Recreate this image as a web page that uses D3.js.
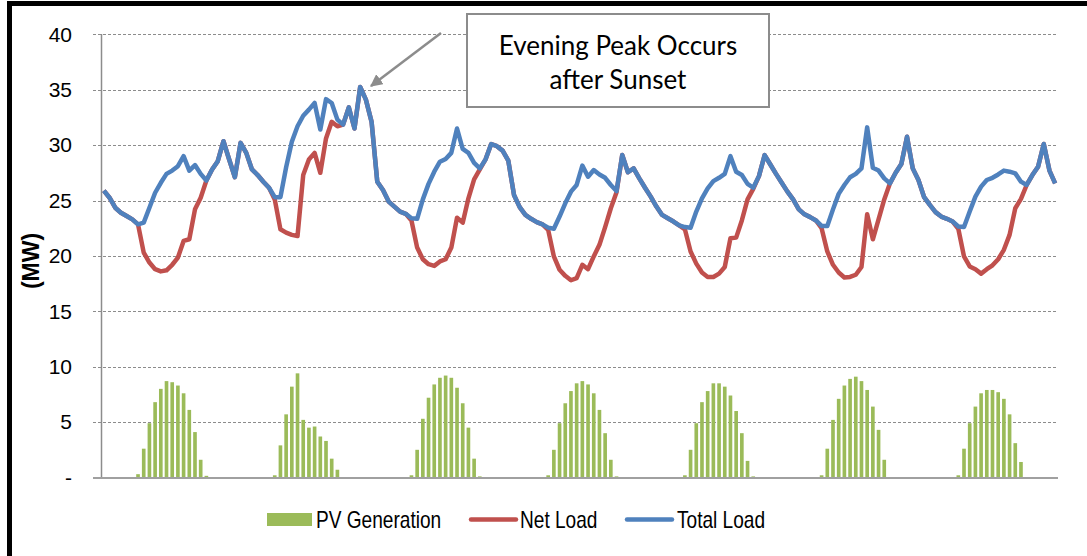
<!DOCTYPE html>
<html>
<head>
<meta charset="utf-8">
<script src="https://cdn.jsdelivr.net/npm/d3@7"></script>
<style>
  body { margin: 0; background: #fff; }
  svg { display: block; }
</style>
</head>
<body>
<svg id="chart" width="1087" height="556"></svg>
<script>
// hourly values for one week, one row per day (hours 0..23)
const totalLoad = [
  25.9, 25.25, 24.35, 23.9, 23.6, 23.3, 22.85, 23.0, 24.35, 25.7, 26.6, 27.4, 27.7, 28.1, 29.0, 27.7, 28.2, 27.4, 26.8, 27.8, 28.55, 30.35, 28.7, 27.1,
  30.2, 29.3, 27.8, 27.3, 26.7, 26.15, 25.3, 25.3, 28.0, 30.3, 31.7, 32.65, 33.2, 33.8, 31.4, 34.15, 33.8, 32.3, 31.85, 33.4, 31.5, 35.25, 34.1, 32.1,
  26.7, 25.95, 24.9, 24.45, 24.0, 23.8, 23.4, 23.35, 25.1, 26.5, 27.6, 28.5, 28.75, 29.3, 31.5, 29.65, 29.3, 28.4, 27.9, 28.7, 30.1, 29.9, 29.5, 28.6,
  25.5, 24.4, 23.7, 23.35, 23.05, 22.85, 22.55, 22.45, 23.55, 24.75, 25.8, 26.4, 28.15, 27.15, 27.75, 27.35, 27.05, 26.4, 25.85, 29.1, 27.55, 27.9, 27.0, 26.15,
  25.35, 24.45, 23.7, 23.4, 23.1, 22.75, 22.6, 22.55, 24.0, 25.2, 26.1, 26.75, 27.05, 27.4, 29.0, 27.6, 27.3, 26.5, 26.15, 27.2, 29.1, 28.25, 27.4, 26.6,
  25.8, 25.1, 24.2, 23.75, 23.5, 23.2, 22.7, 22.7, 24.2, 25.6, 26.4, 27.1, 27.4, 27.9, 31.6, 27.95, 27.7, 27.0, 26.55, 27.5, 28.3, 30.75, 27.9, 26.85,
  25.3, 24.6, 23.95, 23.55, 23.35, 23.1, 22.65, 22.6, 24.0, 25.35, 26.25, 26.85, 27.05, 27.35, 27.7, 27.6, 27.45, 26.7, 26.4, 27.3, 28.05, 30.1, 27.7, 26.55
];

const netLoad = [
  25.9, 25.25, 24.35, 23.9, 23.6, 23.3, 22.85, 20.3, 19.4, 18.8, 18.6, 18.7, 19.2, 19.85, 21.35, 21.5, 24.2, 25.25, 26.8, 27.8, 28.55, 30.35, 28.7, 27.1,
  30.2, 29.3, 27.8, 27.3, 26.7, 26.15, 25.1, 22.4, 22.1, 21.9, 21.8, 27.3, 28.7, 29.3, 27.5, 30.6, 32.1, 31.7, 31.85, 33.4, 31.5, 35.25, 34.1, 32.1,
  26.7, 25.95, 24.9, 24.45, 24.0, 23.8, 23.2, 20.75, 19.7, 19.25, 19.1, 19.5, 19.7, 20.75, 23.45, 23.0, 25.2, 26.9, 27.8, 28.7, 30.1, 29.9, 29.5, 28.6,
  25.5, 24.4, 23.7, 23.35, 23.05, 22.85, 22.35, 19.95, 18.75, 18.2, 17.8, 18.0, 19.2, 18.8, 19.95, 21.0, 22.6, 24.3, 25.75, 29.1, 27.55, 27.9, 27.0, 26.15,
  25.35, 24.45, 23.7, 23.4, 23.1, 22.75, 22.4, 20.4, 19.3, 18.5, 18.1, 18.1, 18.4, 19.0, 21.6, 21.65, 23.2, 25.1, 26.05, 27.2, 29.1, 28.25, 27.4, 26.6,
  25.8, 25.1, 24.2, 23.75, 23.5, 23.2, 22.5, 20.4, 19.2, 18.5, 18.05, 18.1, 18.3, 19.0, 23.75, 21.5, 23.3, 25.1, 26.55, 27.5, 28.3, 30.75, 27.9, 26.85,
  25.3, 24.6, 23.95, 23.55, 23.35, 23.1, 22.45, 19.95, 19.05, 18.8, 18.4, 18.8, 19.15, 19.7, 20.55, 21.9, 24.3, 25.15, 26.4, 27.3, 28.05, 30.1, 27.7, 26.55
];

const pvGeneration = [
  0, 0, 0, 0, 0, 0, 0.3, 2.6, 4.9, 6.8, 8.0, 8.7, 8.6, 8.3, 7.6, 6.1, 4.1, 1.6, 0.15, 0, 0, 0, 0, 0,
  0, 0, 0, 0, 0, 0, 0.2, 2.9, 5.7, 8.2, 9.4, 5.2, 4.5, 4.6, 3.7, 3.3, 1.7, 0.7, 0, 0, 0, 0, 0, 0,
  0, 0, 0, 0, 0, 0, 0.2, 2.5, 5.3, 7.2, 8.4, 9.0, 9.2, 9.0, 8.1, 6.7, 4.5, 1.7, 0.1, 0, 0, 0, 0, 0,
  0, 0, 0, 0, 0, 0, 0.2, 2.5, 4.9, 6.7, 7.8, 8.5, 8.7, 8.4, 7.6, 6.1, 4.0, 1.6, 0.1, 0, 0, 0, 0, 0,
  0, 0, 0, 0, 0, 0, 0.2, 2.5, 4.9, 6.8, 7.8, 8.5, 8.5, 8.2, 7.4, 6.0, 4.0, 1.5, 0.1, 0, 0, 0, 0, 0,
  0, 0, 0, 0, 0, 0, 0.2, 2.6, 5.2, 7.1, 8.3, 8.9, 9.1, 8.7, 7.9, 6.4, 4.3, 1.6, 0, 0, 0, 0, 0, 0,
  0, 0, 0, 0, 0, 0, 0.2, 2.6, 4.9, 6.4, 7.6, 7.9, 7.9, 7.7, 7.1, 5.7, 3.1, 1.4, 0, 0, 0, 0, 0, 0
];

const yTicks = [0, 5, 10, 15, 20, 25, 30, 35, 40];
const seriesNames = ["PV Generation", "Net Load", "Total Load"];
const annotationLines = ["Evening Peak Occurs", "after Sunset"];

const colors = { pv: "#9bbb59", net: "#c0504d", total: "#4f81bd" };

const svg = d3.select("#chart");
const hours = d3.range(totalLoad.length);

const x = d3.scaleBand().domain(hours).range([101, 1058]).paddingInner(0.36).paddingOuter(0.18);
const y = d3.scaleLinear().domain([0, 40]).range([477.5, 34.3]);
const cx = (i) => x(i) + x.bandwidth() / 2;

// frame (left and top edges of the original border)
svg.append("rect").attr("x", 7).attr("y", 1).attr("width", 1080).attr("height", 5).attr("fill", "#000");
svg.append("rect").attr("x", 7).attr("y", 1).attr("width", 5).attr("height", 555).attr("fill", "#000");

// gridlines
svg.append("g")
  .selectAll("line")
  .data(yTicks.filter((d) => d > 0))
  .enter()
  .append("line")
  .attr("x1", 93)
  .attr("x2", 1058)
  .attr("y1", (d) => Math.round(y(d)) + 0.5)
  .attr("y2", (d) => Math.round(y(d)) + 0.5)
  .attr("stroke", "#8c8c8c")
  .attr("stroke-width", 1)
  .attr("stroke-dasharray", "3,2");

// y axis
const yAxis = d3.axisLeft(y)
  .tickValues(yTicks)
  .tickSize(0)
  .tickPadding(29)
  .tickFormat((d) => (d === 0 ? "-" : d));

svg.append("g")
  .attr("transform", "translate(101,0)")
  .call(yAxis)
  .call((g) => g.select(".domain").remove())
  .selectAll("text")
  .attr("font-family", "'Liberation Sans', Arial, sans-serif")
  .attr("font-size", 21)
  .attr("fill", "#000");

svg.append("text")
  .attr("transform", "translate(39,261) rotate(-90)")
  .attr("text-anchor", "middle")
  .attr("font-family", "'Liberation Sans', Arial, sans-serif")
  .attr("font-weight", "bold")
  .attr("font-size", 23)
  .text("(MW)");

// PV bars
svg.append("g")
  .selectAll("rect")
  .data(hours.filter((i) => pvGeneration[i] > 0))
  .enter()
  .append("rect")
  .attr("x", (i) => x(i))
  .attr("width", x.bandwidth())
  .attr("y", (i) => y(pvGeneration[i]))
  .attr("height", (i) => y(0) - y(pvGeneration[i]))
  .attr("fill", colors.pv);

// axis lines
svg.append("line")
  .attr("x1", 101.5).attr("x2", 101.5)
  .attr("y1", 34).attr("y2", 478)
  .attr("stroke", "#8c8c8c").attr("stroke-width", 1.5);
svg.append("line")
  .attr("x1", 93).attr("x2", 1058)
  .attr("y1", 478).attr("y2", 478)
  .attr("stroke", "#a0a0a0").attr("stroke-width", 2);

// load lines
const line = (values) =>
  d3.line()
    .x((i) => cx(i))
    .y((i) => y(values[i]))(hours);

svg.append("path")
  .attr("d", line(netLoad))
  .attr("fill", "none")
  .attr("stroke", colors.net)
  .attr("stroke-width", 4.5)
  .attr("stroke-linejoin", "round");

svg.append("path")
  .attr("d", line(totalLoad))
  .attr("fill", "none")
  .attr("stroke", colors.total)
  .attr("stroke-width", 4.5)
  .attr("stroke-linejoin", "round");

// annotation
svg.append("defs")
  .append("marker")
  .attr("id", "arrow")
  .attr("viewBox", "0 0 10 10")
  .attr("refX", 9)
  .attr("refY", 5)
  .attr("markerWidth", 5)
  .attr("markerHeight", 5)
  .attr("orient", "auto")
  .append("path")
  .attr("d", "M0,0L10,5L0,10z")
  .attr("fill", "#8c8c8c");

svg.append("line")
  .attr("x1", 441).attr("y1", 33)
  .attr("x2", 371).attr("y2", 86)
  .attr("stroke", "#8c8c8c")
  .attr("stroke-width", 2.5)
  .attr("marker-end", "url(#arrow)");

svg.append("rect")
  .attr("x", 467).attr("y", 14)
  .attr("width", 302).attr("height", 93)
  .attr("fill", "#fff")
  .attr("stroke", "#8c8c8c")
  .attr("stroke-width", 2);

svg.append("g")
  .selectAll("text")
  .data(annotationLines)
  .enter()
  .append("text")
  .attr("x", 618)
  .attr("y", (d, i) => 55 + i * 34)
  .attr("text-anchor", "middle")
  .attr("font-family", "Lato, 'Open Sans', sans-serif")
  .attr("font-size", 26)
  .attr("fill", "#000")
  .text((d) => d);

// legend (narrow type, as in the original)
const legend = svg.append("g")
  .attr("font-family", "'Liberation Sans', Arial, sans-serif")
  .attr("font-size", 23)
  .attr("fill", "#000");

const legendText = (x0, label) =>
  legend.append("text")
    .attr("transform", "translate(" + x0 + ",528) scale(0.83,1)")
    .text(label);

legend.append("rect").attr("x", 267).attr("y", 513).attr("width", 45).attr("height", 13).attr("fill", colors.pv);
legendText(316, seriesNames[0]);

legend.append("line").attr("x1", 471).attr("x2", 516).attr("y1", 519.5).attr("y2", 519.5)
  .attr("stroke", colors.net).attr("stroke-width", 4.5).attr("stroke-linecap", "round");
legendText(520, seriesNames[1]);

legend.append("line").attr("x1", 627).attr("x2", 672).attr("y1", 519.5).attr("y2", 519.5)
  .attr("stroke", colors.total).attr("stroke-width", 4.5).attr("stroke-linecap", "round");
legendText(677, seriesNames[2]);
</script>
</body>
</html>
